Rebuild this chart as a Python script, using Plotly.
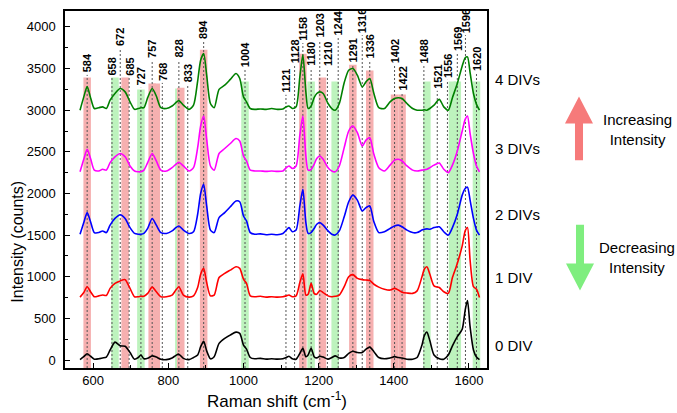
import plotly.graph_objects as go

# ---------------- data ----------------
raman_shift = [565, 575, 584, 593, 603, 615, 625, 635, 645, 658,
               672, 685, 698, 710, 720, 727, 735, 745, 757, 768,
               780, 795, 810, 820, 828, 840, 855, 867, 878, 886,
               894, 902, 912, 922, 935, 950, 965, 980, 990, 1000,
               1008, 1018, 1030, 1045, 1060, 1075, 1090, 1105, 1114, 1121,
               1130, 1140, 1150, 1158, 1166, 1172, 1180, 1188, 1195, 1203,
               1212, 1225, 1235, 1244, 1255, 1268, 1280, 1291, 1303, 1316,
               1326, 1336, 1347, 1360, 1375, 1390, 1402, 1412, 1422, 1435,
               1450, 1462, 1475, 1481, 1488, 1496, 1507, 1521, 1533, 1545,
               1556, 1569, 1582, 1590, 1596, 1603, 1612, 1620, 1628]

intensity_0div = [5, 40, 75, 45, 10, 15, 25, 35, 120, 215,
                  170, 165, 90, 10, 30, 60, 15, 20, 50, 35,
                  10, 5, 25, 55, 70, 20, 5, 30, 60, 160,
                  225, 110, 15, 40, 200, 260, 300, 335, 320, 180,
                  130, 30, 15, 20, 10, 15, 10, 15, 30, 45,
                  15, 10, 80, 140, 40, 60, 140, 40, 25, 45,
                  35, 10, 30, 50, 25, 30, 80, 105, 90, 90,
                  130, 155, 100, 30, 15, 25, 40, 30, 25, 10,
                  10, 30, 180, 290, 335, 230, 60, 15, 10, 60,
                  170, 280, 370, 600, 715, 400, 120, 35, 5]

intensity_1div = [5, 60, 130, 70, 10, 20, 30, 25, 110, 170,
                  200, 215, 110, 10, 10, 15, 15, 50, 125, 70,
                  10, 10, 30, 90, 130, 30, 5, 20, 120, 280,
                  350, 180, 20, 30, 240, 290, 330, 370, 350, 220,
                  170, 20, 10, 15, 5, 10, 5, 10, 20, 30,
                  10, 20, 180, 285, 30, 40, 170, 50, 40, 85,
                  60, 20, 10, 15, 30, 130, 250, 275, 230, 215,
                  210, 205, 160, 125, 100, 90, 110, 90, 65, 55,
                  50, 80, 250, 340, 370, 280, 140, 120, 70, 50,
                  240, 410, 620, 800, 840, 450, 130, 100, 0]

intensity_2divs = [10, 150, 270, 160, 30, 30, 50, 30, 120, 200,
                   245, 200, 90, 20, 10, 10, 20, 80, 200, 120,
                   30, 20, 50, 90, 110, 60, 20, 40, 250, 500,
                   610, 350, 60, 30, 210, 270, 340, 410, 400, 230,
                   170, 30, 10, 15, 5, 10, 5, 20, 60, 90,
                   40, 60, 350, 550, 150, 20, 30, 80, 130, 150,
                   120, 50, 10, 0, 50, 220, 400, 480, 420, 290,
                   330, 350, 160, 30, 40, 80, 110, 120, 100, 60,
                   30, 30, 60, 70, 75, 70, 90, 100, 40, 0,
                   90, 250, 480, 560, 575, 420, 200, 60, 0]

intensity_3divs = [10, 160, 280, 170, 30, 20, 40, 30, 120, 190,
                   230, 190, 80, 20, 10, 10, 30, 120, 230, 140,
                   30, 20, 60, 100, 125, 80, 20, 60, 300, 560,
                   680, 400, 80, 30, 230, 290, 350, 410, 380, 200,
                   140, 30, 20, 20, 15, 20, 15, 20, 60, 80,
                   50, 80, 450, 680, 200, 30, 40, 100, 170, 200,
                   160, 60, 20, 10, 80, 300, 500, 560, 480, 320,
                   390, 420, 220, 60, 20, 90, 150, 160, 140, 80,
                   30, 20, 30, 35, 40, 60, 90, 115, 40, 0,
                   90, 260, 500, 640, 680, 470, 230, 80, 10]

intensity_4divs = [0, 160, 283, 150, 20, 30, 40, 20, 120, 200,
                   260, 220, 100, 10, 20, 30, 30, 150, 260, 170,
                   30, 20, 50, 90, 115, 60, 10, 60, 350, 600,
                   680, 420, 80, 30, 250, 300, 370, 440, 380, 160,
                   100, 20, 10, 15, 10, 20, 10, 15, 40, 50,
                   20, 40, 400, 665, 220, 20, 50, 150, 200, 220,
                   200, 80, 20, 0, 80, 330, 480, 500, 420, 280,
                   340, 380, 200, 30, 20, 100, 140, 150, 140, 80,
                   20, 0, 0, 5, 0, 20, 60, 130, 40, 0,
                   150, 320, 530, 630, 640, 450, 200, 70, 0]

series_names = ["0 DIV", "1 DIV", "2 DIVs", "3 DIVs", "4 DIVs"]
series_offsets = [0, 750, 1500, 2250, 3000]
series_colors = ["#000000", "#ff0000", "#0000ff", "#ff00ff", "#008000"]
series_values = [intensity_0div, intensity_1div, intensity_2divs,
                 intensity_3divs, intensity_4divs]

peak_positions = [584, 658, 672, 685, 727, 757, 768, 828, 833, 894, 1004,
                  1121, 1128, 1158, 1180, 1203, 1210, 1244, 1291, 1316, 1336,
                  1402, 1422, 1488, 1521, 1556, 1569, 1596, 1620]
peak_label_heights = [3439, 3403, 3761, 3403, 3284, 3618, 3343, 3618, 3319, 3845, 3499,
                      3200, 3546, 3821, 3522, 3857, 3522, 3881, 3558, 3916, 3606,
                      3546, 3224, 3546, 3248, 3379, 3701, 3916, 3463]
# band type per peak: "up" (increasing, red), "down" (decreasing, green), None
peak_band = ["up", "down", None, "up", "down", "up", "up", "down", "up", "up", "down",
             None, None, "up", "down", None, "up", "down", "up", None, "up",
             "up", "up", "down", None, "down", "down", None, "down"]
band_tops = [3391, 3391, None, 3391, 3248, 3320, 3320, 3260, 3270, 3725, 3343,
             None, None, 3678, 3343, None, 3391, 3343, 3546, None, 3475,
             3188, 3188, 3343, None, 3343, 3343, None, 3343]

x_ticks = [600, 800, 1000, 1200, 1400, 1600]
y_ticks = [0, 500, 1000, 1500, 2000, 2500, 3000, 3500, 4000]

# ---------------- layout geometry ----------------
W, H = 677, 413
L, R, T, B = 65, 190, 9, 45
PW, PH = W - L - R, H - T - B
X_RANGE = [525, 1648]
Y_RANGE = [-96, 4191]
PX_PER_CM = PW / (X_RANGE[1] - X_RANGE[0])
FONT = "Arial, Liberation Sans, sans-serif"
# small horizontal pixel nudges of crowded labels (and their guide lines)
label_shift_px = {658: -3, 685: 4, 768: 6, 833: 7, 1121: -3, 1128: 3, 1210: 5,
                  1244: 3, 1488: -3, 1521: -2, 1556: -5, 1596: -2}


def px_to_paper(px, py):
    return (px - L) / PW, (H - B - py) / PH


fig = go.Figure()

for name, off, col, vals in zip(series_names, series_offsets, series_colors, series_values):
    fig.add_trace(go.Scatter(
        x=raman_shift, y=[v + off for v in vals], mode="lines", name=name,
        line=dict(color=col, width=1.6, shape="spline", smoothing=0.7),
        showlegend=False, hoverinfo="skip"))

shapes = []
BAND_HALF = 10
for pk, band, top in zip(peak_positions, peak_band, band_tops):
    if band is None:
        continue
    shapes.append(dict(type="rect", xref="x", yref="y", layer="below",
                       x0=pk - BAND_HALF, x1=pk + BAND_HALF, y0=Y_RANGE[0], y1=top,
                       fillcolor="#f6b0b0" if band == "up" else "#bdf3bd",
                       line=dict(width=0)))
for pk, h in zip(peak_positions, peak_label_heights):
    xl = pk + label_shift_px.get(pk, 0) / PX_PER_CM
    shapes.append(dict(type="line", xref="x", yref="y", layer="below",
                       x0=xl, x1=xl, y0=Y_RANGE[0], y1=h - 15,
                       line=dict(color="#555555", width=1, dash="2px,2px")))


def arrow_path(cx, y_shaft_end, y_head_base, y_tip, shaft_hw=4, head_hw=14):
    pts = [(cx - shaft_hw, y_shaft_end), (cx - shaft_hw, y_head_base), (cx - head_hw, y_head_base),
           (cx, y_tip), (cx + head_hw, y_head_base), (cx + shaft_hw, y_head_base),
           (cx + shaft_hw, y_shaft_end)]
    pp = [px_to_paper(x, y) for x, y in pts]
    return "M " + " L ".join(f"{x:.4f},{y:.4f}" for x, y in pp) + " Z"


shapes.append(dict(type="path", xref="paper", yref="paper", path=arrow_path(579, 159, 122, 95),
                   fillcolor="#f67a7a", line=dict(width=0)))
shapes.append(dict(type="path", xref="paper", yref="paper", path=arrow_path(580, 224, 263, 290),
                   fillcolor="#7fee7f", line=dict(width=0)))

annotations = []
for pk, h in zip(peak_positions, peak_label_heights):
    annotations.append(dict(x=pk, y=h, xref="x", yref="y", text=f"<b>{pk}</b>",
                            textangle=-90, showarrow=False, xanchor="center", yanchor="bottom",
                            xshift=label_shift_px.get(pk, 0), borderpad=0,
                            font=dict(family=FONT, size=11, color="#000")))

series_label_y = [179, 991, 1743, 2543, 3367]
for name, yv in zip(series_names, series_label_y):
    annotations.append(dict(x=px_to_paper(493, 0)[0], y=yv, xref="paper", yref="y",
                            text=name, showarrow=False, xanchor="left", yanchor="middle",
                            font=dict(family=FONT, size=15, color="#000")))

for txt, py in [("Increasing<br>Intensity", 128), ("Decreasing<br>Intensity", 257)]:
    xp, yp = px_to_paper(637, py)
    annotations.append(dict(x=xp, y=yp, xref="paper", yref="paper", text=txt, showarrow=False,
                            xanchor="center", yanchor="middle", align="center",
                            font=dict(family=FONT, size=15, color="#000")))

xp, yp = px_to_paper(18, 241)
annotations.append(dict(x=xp, y=yp, xref="paper", yref="paper", text="Intensity (counts)",
                        textangle=-90, showarrow=False, xanchor="center", yanchor="middle",
                        font=dict(family=FONT, size=16, color="#000")))
xp, yp = px_to_paper(277, 400)
annotations.append(dict(x=xp, y=yp, xref="paper", yref="paper",
                        text="Raman shift (cm<sup>-1</sup>)", showarrow=False,
                        xanchor="center", yanchor="middle",
                        font=dict(family=FONT, size=17, color="#000")))

axis_common = dict(showline=True, linecolor="#000", linewidth=1.5, mirror=True,
                   ticks="inside", ticklen=5, tickwidth=1.2, tickcolor="#000",
                   showgrid=False, zeroline=False,
                   tickfont=dict(family=FONT, size=13, color="#000"))

fig.update_layout(
    width=W, height=H, margin=dict(l=L, r=R, t=T, b=B),
    paper_bgcolor="white", plot_bgcolor="white",
    xaxis=dict(range=X_RANGE, tickvals=x_ticks,
               minor=dict(ticks="inside", ticklen=3, dtick=100, tick0=500, tickcolor="#000"),
               **axis_common),
    yaxis=dict(range=Y_RANGE, tickvals=y_ticks,
               minor=dict(ticks="inside", ticklen=3, dtick=250, tick0=0, tickcolor="#000"),
               ticklabelstandoff=5, **axis_common),
    shapes=shapes, annotations=annotations,
)

fig.write_html("out.html", config={"displayModeBar": False},
               post_script="document.body.style.margin='0';document.body.style.padding='0';")
